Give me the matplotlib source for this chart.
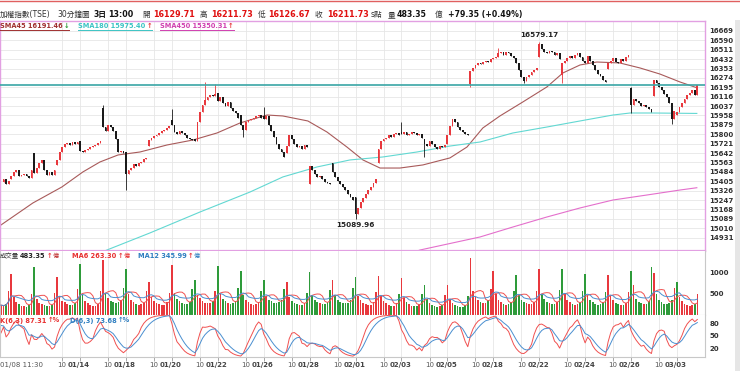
import matplotlib
matplotlib.use("Agg")
import matplotlib.pyplot as plt
from matplotlib.lines import Line2D
from matplotlib.patches import Rectangle
import numpy as np
import pandas as pd

plt.rcParams['font.family'] = ['DejaVu Sans', 'Noto Sans CJK TC']

# trading days on screen (the first one starts at 11:30, 9 bars of 30 min per day)
dates = ["01/08", "01/11", "01/12", "01/13", "01/14", "01/15",
         "01/18", "01/19", "01/20", "01/21", "01/22",
         "01/25", "01/26", "01/27", "01/28", "01/29",
         "02/01", "02/02", "02/03", "02/04", "02/05",
         "02/17", "02/18", "02/19", "02/22", "02/23", "02/24", "02/25", "02/26",
         "03/02", "03/03"]
label_dates = ["01/14", "01/18", "01/20", "01/22", "01/26", "01/28", "02/01",
               "02/03", "02/05", "02/18", "02/22", "02/24", "02/26", "03/03"]

# open of the first bar of each day
day_open = [15400, 15420, 15643, 15540, 15740, 16021, 15650, 15700, 15920, 15760,
            16150, 15960, 15950, 15640, 15380, 15560, 15270, 15560, 15820, 15760,
            15720, 16220, 16430, 16440, 16450, 16300, 16420, 16350, 16190, 16120, 15960]

# closes of every 30 min bar, one list per day
closes = [
    [15395, 15420, 15385, 15410],
    [15449, 15483, 15500, 15449, 15457, 15466, 15449, 15432, 15500],
    [15475, 15517, 15559, 15584, 15500, 15457, 15483, 15457, 15500],
    [15584, 15651, 15693, 15718, 15727, 15710, 15735, 15718, 15735],
    [15660, 15650, 15665, 15680, 15690, 15700, 15710, 15725, 15740],
    [15861, 15830, 15880, 15860, 15830, 15760, 15650, 15660, 15640],
    [15470, 15500, 15520, 15550, 15530, 15560, 15570, 15590, 15600],
    [15752, 15769, 15786, 15794, 15811, 15828, 15836, 15853, 15870],
    [15880, 15820, 15800, 15830, 15810, 15790, 15770, 15760, 15750],
    [15745, 15900, 15990, 16050, 16090, 16110, 16130, 16120, 16140],
    [16080, 16110, 16060, 16040, 16070, 16020, 16000, 15980, 15940],
    [15880, 15840, 15900, 15920, 15930, 15940, 15950, 15960, 15940],
    [15930, 15950, 15880, 15830, 15780, 15720, 15680, 15650, 15610],
    [15700, 15790, 15760, 15720, 15690, 15700, 15680, 15710, 15690],
    [15530, 15500, 15470, 15440, 15450, 15420, 15400, 15390, 15380],
    [15480, 15440, 15410, 15380, 15360, 15330, 15300, 15270, 15250],
    [15130, 15180, 15230, 15260, 15300, 15330, 15360, 15390, 15420],
    [15680, 15740, 15760, 15770, 15790, 15780, 15800, 15810, 15790],
    [15800, 15820, 15790, 15800, 15820, 15810, 15790, 15800, 15770],
    [15720, 15700, 15740, 15720, 15690, 15680, 15700, 15690, 15710],
    [15790, 15870, 15930, 15900, 15860, 15840, 15820, 15800, 15790],
    [16330, 16360, 16380, 16400, 16390, 16410, 16420, 16410, 16430],
    [16440, 16450, 16480, 16490, 16470, 16490, 16480, 16460, 16440],
    [16400, 16340, 16280, 16250, 16280, 16300, 16320, 16340, 16360],
    [16560, 16520, 16490, 16480, 16500, 16490, 16470, 16480, 16430],
    [16400, 16420, 16440, 16460, 16440, 16470, 16480, 16450, 16420],
    [16400, 16460, 16420, 16380, 16340, 16310, 16290, 16260, 16240],
    [16400, 16420, 16440, 16410, 16400, 16430, 16420, 16450, 16470],
    [16050, 16100, 16080, 16060, 16040, 16050, 16030, 16010, 15990],
    [16260, 16230, 16200, 16170, 16140, 16110, 16060, 15930, 16000],
    [15990, 16030, 16060, 16100, 16130, 16150, 16170, 16129.71, 16211.73],
]

# long shadows visible on the chart: (day, bar) -> price
wick_high = {(5, 0): 16046, (8, 0): 16013, (9, 4): 16240, (9, 8): 16225,
             (12, 0): 16030, (18, 0): 15903, (22, 2): 16526, (24, 0): 16579.17,
             (28, 0): 16198, (30, 8): 16211.73}
wick_low = {(6, 0): 15331, (11, 1): 15777, (16, 0): 15089.96, (19, 0): 15609,
            (21, 0): 16200, (23, 3): 16232, (25, 0): 16232, (28, 0): 15979,
            (29, 7): 15887, (30, 8): 16126.67}

# volume (億) per bar
vols = [
    [230, 210, 260, 560],
    [947, 430, 300, 260, 220, 200, 190, 230, 480],
    [1117, 380, 290, 250, 230, 210, 200, 240, 520],
    [874, 450, 330, 300, 260, 240, 230, 280, 600],
    [1190, 470, 320, 270, 230, 210, 220, 260, 560],
    [1286, 520, 400, 330, 300, 280, 310, 350, 640],
    [1068, 480, 360, 300, 260, 240, 250, 290, 560],
    [777, 420, 330, 280, 250, 230, 240, 300, 520],
    [1165, 520, 380, 320, 280, 250, 260, 300, 600],
    [825, 470, 400, 330, 290, 270, 280, 320, 560],
    [1141, 500, 380, 320, 280, 260, 270, 320, 620],
    [1020, 460, 350, 300, 260, 240, 250, 300, 560],
    [825, 450, 360, 320, 290, 280, 300, 350, 600],
    [777, 430, 330, 280, 250, 230, 240, 290, 520],
    [995, 470, 360, 300, 270, 250, 260, 310, 580],
    [825, 460, 360, 310, 280, 270, 290, 340, 620],
    [874, 450, 340, 290, 250, 230, 240, 300, 540],
    [898, 440, 320, 270, 230, 210, 220, 270, 500],
    [850, 400, 300, 250, 220, 200, 210, 250, 480],
    [704, 380, 290, 240, 210, 190, 200, 240, 460],
    [704, 380, 280, 230, 200, 180, 190, 240, 450],
    [1335, 560, 420, 350, 300, 280, 290, 340, 600],
    [1020, 480, 360, 300, 260, 240, 250, 300, 560],
    [922, 470, 360, 300, 270, 250, 260, 310, 560],
    [1068, 500, 380, 310, 270, 250, 260, 310, 580],
    [1068, 480, 360, 300, 260, 240, 250, 300, 560],
    [947, 460, 350, 300, 260, 240, 250, 300, 540],
    [922, 450, 340, 290, 250, 230, 240, 290, 540],
    [1020, 700, 380, 310, 270, 250, 260, 330, 1117],
    [971, 480, 360, 300, 260, 250, 270, 350, 630],
    [777, 420, 320, 260, 230, 220, 230, 260, 483.35],
]

# moving averages (bar index, price)
sma45_x = [0, 12.5, 23.9, 32.1, 38.8, 45.9, 54.5, 65.1, 75.3, 84.7, 93.7, 97.6, 104.3,
           110.5, 120.3, 127.8, 135.6, 141.9, 148.6, 156.4, 165.4, 176.0, 182.7, 188.9,
           195.6, 204.6, 214.0, 220.3, 227.0, 233.6, 242.6, 250.5, 258.3, 266.2, 272.8]
sma45_y = [15037, 15222, 15357, 15483, 15567, 15626, 15651, 15710, 15752, 15811, 15895,
           15920, 15962, 15954, 15912, 15819, 15693, 15584, 15516, 15516, 15542, 15601,
           15693, 15853, 15954, 16072, 16198, 16316, 16383, 16408, 16400, 16358, 16307,
           16240, 16191.46]
sma180_x = [30.9, 41.6, 58.4, 78.0, 97.6, 110.5, 123.9, 136.8, 149.7, 163.1, 176.0,
            187.8, 200.7, 214.0, 227.0, 239.9, 246.6, 255.6, 272.8]
sma180_y = [14734, 14827, 14970, 15146, 15314, 15441, 15525, 15584, 15609, 15651, 15701,
            15735, 15811, 15861, 15912, 15962, 15979, 15979, 15975.40]
sma450_x = [156.4, 164.2, 187.8, 200.7, 214.0, 227.0, 239.9, 253.2, 266.2, 272.8]
sma450_y = [14768, 14826, 14936, 15020, 15104, 15180, 15247, 15289, 15331, 15350.31]

# K and D values where the chart starts
kd_start = (86, 84)

price_levels = list(range(14931, 16670, 79))
last_close = 16211.73

# ---- build OHLC ----
c = np.array([v for day in closes for v in day], float)
o = np.empty_like(c)
starts = []
i = 0
for d, day in enumerate(closes):
    starts.append(i)
    for k in range(len(day)):
        o[i] = day_open[d] if k == 0 else c[i - 1]
        i += 1
h = np.maximum(o, c)
l = np.minimum(o, c)
for (d, k), v in wick_high.items():
    h[starts[d] + k] = v
for (d, k), v in wick_low.items():
    l[starts[d] + k] = v
n = len(c)
idx = np.arange(n)
vol = np.array([v for day in vols for v in day], float)

# KD(6,3)
K = np.zeros(n)
D = np.zeros(n)
kp, dp = kd_start
for t in range(n):
    lo = l[max(0, t - 5):t + 1].min()
    hi = h[max(0, t - 5):t + 1].max()
    rsv = 50.0 if hi == lo else (c[t] - lo) / (hi - lo) * 100
    kp = kp * 2 / 3 + rsv / 3
    dp = dp * 2 / 3 + kp / 3
    K[t], D[t] = kp, dp

ma6 = pd.Series(vol).rolling(6, min_periods=1).mean()
ma12 = pd.Series(vol).rolling(12, min_periods=1).mean()

RED = '#e8383d'
BLACK = '#1a1a1a'
GREEN = '#2e9b3a'
GRID = '#e6e6e6'

W, H = 740, 371
fig = plt.figure(figsize=(W / 100, H / 100), dpi=100)
rend = fig.canvas.get_renderer()


def fy(py):
    return 1 - py / H


pw = 705 / W
ax_p = fig.add_axes([0, fy(251), pw, (251 - 21) / H])
ax_v = fig.add_axes([0, fy(315), pw, (315 - 251) / H])
ax_k = fig.add_axes([0, fy(357), pw, (357 - 315) / H])

xlim = (-0.39, 276.0)

# tick positions: "10" = 10:00 bar of the day before, then the labelled day start
ten_pos, date_pos = [], []
for lab in label_dates:
    j = dates.index(lab)
    ten_pos.append(starts[j - 1] + 2)
    date_pos.append(starts[j])
vlines_x = sorted(ten_pos + date_pos)

for ax in (ax_p, ax_v, ax_k):
    ax.set_xlim(*xlim)
    for x in vlines_x:
        ax.axvline(x, color=GRID, lw=0.6, zorder=0)

# ---- price panel ----
up = c >= o
col = np.where(up, RED, BLACK)
ax_p.vlines(idx, l, h, colors=col, lw=0.6, zorder=3)
body = np.maximum(np.abs(c - o), 5)
ax_p.bar(idx, body, bottom=np.minimum(o, c), width=0.7, color=col, lw=0, zorder=3)
ax_p.plot(sma45_x, sma45_y, color='#a85a5a', lw=0.8, zorder=2)
ax_p.plot(sma180_x, sma180_y, color='#62d8d2', lw=0.8, zorder=2)
ax_p.plot(sma450_x, sma450_y, color='#e46fcc', lw=0.8, zorder=2)
ax_p.axhline(last_close, color='#3aa6a6', lw=1.2, zorder=4)
ax_p.set_ylim(14818, 16753)
ax_p.yaxis.tick_right()
ax_p.set_yticks(price_levels)
ax_p.set_yticklabels([str(v) for v in price_levels], fontsize=5, fontweight='bold', color='#333')
ax_p.tick_params(axis='y', length=0, pad=3)
ax_p.set_xticks([])
ax_p.grid(axis='y', color=GRID, lw=0.6, zorder=0)
for s in ax_p.spines.values():
    s.set_color('#e2a0e2')
    s.set_linewidth(1.0)
ax_p.spines['bottom'].set_linewidth(1.6)

i_hi = int(np.argmax(h))
i_lo = int(np.argmin(l))
ax_p.text(i_hi, h[i_hi] + 35, f"{h[i_hi]:.2f}", ha='center', va='bottom', fontsize=5.2,
          fontweight='bold', color='#222')
ax_p.text(i_lo, l[i_lo] - 25, f"{l[i_lo]:.2f}", ha='center', va='top', fontsize=5.2,
          fontweight='bold', color='#222')

# ---- volume panel ----
vcol = np.where(np.r_[True, c[1:] >= c[:-1]], RED, GREEN)
ax_v.bar(idx, vol, width=0.65, color=vcol, lw=0, zorder=2)
ax_v.plot(idx, ma6, color='#f05050', lw=0.7, zorder=3)
ax_v.plot(idx, ma12, color='#4a8fd0', lw=0.7, zorder=3)
ax_v.set_ylim(0, 1490)
ax_v.yaxis.tick_right()
ax_v.set_yticks([500, 1000])
ax_v.set_yticklabels(['500', '1000'], fontsize=5, fontweight='bold', color='#333')
ax_v.tick_params(axis='y', length=0, pad=3)
ax_v.set_xticks([])
for s in ax_v.spines.values():
    s.set_color('#c8c8c8')
    s.set_linewidth(0.8)
ax_v.spines['top'].set_visible(False)

# ---- KD panel ----
ax_k.plot(idx, K, color='#f05050', lw=0.7)
ax_k.plot(idx, D, color='#4a8fd0', lw=0.7)
ax_k.set_ylim(0, 100)
ax_k.yaxis.tick_right()
ax_k.set_yticks([20, 50, 80])
ax_k.set_yticklabels(['20', '50', '80'], fontsize=5, fontweight='bold', color='#333')
ax_k.tick_params(axis='y', length=0, pad=3)
ax_k.set_xticks(vlines_x)
ax_k.set_xticklabels([])
ax_k.tick_params(axis='x', length=3, color='#999', width=0.6)
for s in ax_k.spines.values():
    s.set_color('#c8c8c8')
    s.set_linewidth(0.8)
ax_k.spines['top'].set_visible(False)

tr = ax_k.get_xaxis_transform()
ax_k.text(xlim[0], -0.2, "01/08 11:30", transform=tr, ha='left', va='center',
          fontsize=5, color='#555')
for tp, lab in zip(ten_pos, label_dates):
    ax_k.text(tp, -0.2, "10", transform=tr, ha='center', va='center', fontsize=5, color='#555')
    ax_k.text(tp + 2.3, -0.2, lab, transform=tr, ha='left', va='center', fontsize=5,
              fontweight='bold', color='#444')


# ---- header / legends ----
def put(x, y, s, color='#333', size=5.5, weight='normal'):
    return fig.text(x / W, fy(y), s, color=color, fontsize=size, fontweight=weight,
                    ha='left', va='center')


def chain(x, y, parts, gap=1.0):
    # parts: (text, colour, size, weight); each placed right after the previous one
    for s, clr, size, weight in parts:
        t = put(x, y, s, clr, size, weight)
        x += t.get_window_extent(rend).width + gap
    return x


put(0, 14.5, "加權指數(TSE)", size=5.5)
put(57, 14.5, "30分鐘圖", size=5.5)
put(94, 14.5, "3日", weight='bold', size=5.6, color='#111')
put(108, 14.5, "13:00", weight='bold', size=5.8, color='#111')
for x0, lab, x1, val in [(142, "開", 153, "16129.71"), (200, "高", 211, "16211.73"),
                         (258, "低", 268, "16126.67"), (315, "收", 327, "16211.73")]:
    put(x0, 14.5, lab, size=5.5)
    put(x1, 14.5, val, color='#e01010', weight='bold', size=5.8)
put(371, 14.5, "s點", size=5.5)
put(388, 14.5, "量", size=5.5)
put(397, 14.5, "483.35", weight='bold', size=5.6, color='#111')
put(435, 14.5, "億", size=5.5)
put(448, 14.5, "+79.35 (+0.49%)", weight='bold', size=5.6, color='#111')

LS = 4.8
for x0, s, clr, arrow, acol in [
        (0, "SMA45 16191.46", '#a03030', "↓", GREEN),
        (78, "SMA180 15975.40", '#3cc4c4', "↑", RED),
        (160, "SMA450 15350.31", '#d040b0', "↑", RED)]:
    xe = chain(x0, 25.5, [(s, clr, LS, 'bold'), (arrow, acol, LS, 'bold')])
    fig.add_artist(Line2D([x0 / W, (xe - 1) / W], [fy(29.5)] * 2, color=clr, lw=0.7))

chain(0, 256, [("成交量", '#333', 4.6, 'normal'), ("483.35", '#222', LS, 'bold'),
               ("↑", RED, LS, 'bold'), ("億", '#c03030', 4.4, 'normal')])
chain(72, 256, [("MA6 263.30", '#e83030', LS, 'bold'), ("↑", RED, LS, 'bold'),
                ("億", '#e83030', 4.4, 'normal')])
chain(138, 256, [("MA12 345.99", '#2f7fc1', LS, 'bold'), ("↑", RED, LS, 'bold'),
                 ("億", '#2f7fc1', 4.4, 'normal')])

chain(0, 320.5, [("K(6,3) 87.31", '#e83030', LS, 'bold'), ("↑%", '#e83030', LS, 'bold')])
chain(70, 320.5, [("D(6,3) 73.68", '#2f7fc1', LS, 'bold'), ("↑%", '#2f7fc1', LS, 'bold')])

# frame bits of the screenshot
fig.add_artist(Line2D([0, 1], [fy(0.5)] * 2, color='#e06060', lw=1.0))
fig.add_artist(Rectangle((735 / W, 0), 5 / W, fy(20), color='#e6e6e6', lw=0))

fig.savefig("out.png", dpi=100)
